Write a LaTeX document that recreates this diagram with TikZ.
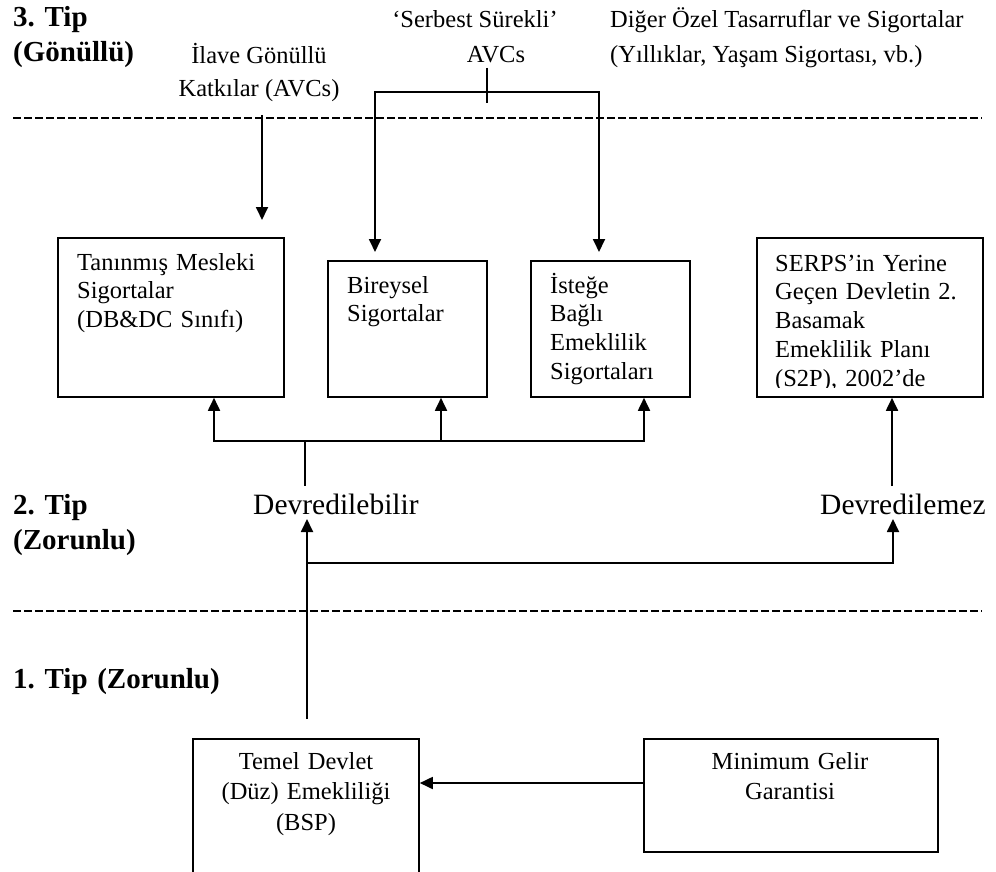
\documentclass[tikz,border=0pt]{standalone}
\usepackage{fontspec}
\setmainfont{Liberation Serif}
\usetikzlibrary{arrows.meta}
\frenchspacing
\begin{document}
\begin{tikzpicture}[x=1pt,y=-1pt,
  box/.style={draw, line width=1.8pt, inner sep=0pt, anchor=north west},
  boxtxt/.style={font=\fontsize{24.5}{28.8}\selectfont\frenchspacing, inner sep=0pt, anchor=base west, align=left, text width=215pt},
  ctrtxt/.style={font=\fontsize{24.5}{30.5}\selectfont\frenchspacing, inner sep=0pt, anchor=base, align=center, text width=280pt},
  hdtxt/.style={font=\fontsize{24.5}{30}\selectfont\frenchspacing, inner sep=0pt},
  tiptxt/.style={font=\fontsize{29}{35}\selectfont\bfseries\frenchspacing, inner sep=0pt, anchor=base west, align=left, text width=260pt},
  bigtxt/.style={font=\fontsize{29.5}{35}\selectfont, inner sep=0pt, anchor=base west},
  conn/.style={line width=1.8pt},
  stem/.style={line width=1.3pt},
  arr/.style={conn, -{Triangle[length=13pt,width=12pt]}},
  arrboth/.style={conn, {Triangle[length=13pt,width=12pt]}-{Triangle[length=13pt,width=12pt]}},
  dashline/.style={line width=1.3pt, dash pattern=on 7.5pt off 3.5pt}]
\useasboundingbox (0,0) rectangle (996,872);

% tier labels
\node[tiptxt] (tip3) at (13,27) {3. Tip\\(Gönüllü)};
\node[tiptxt] (tip2) at (13,514) {2. Tip\\(Zorunlu)};
\node[tiptxt] (tip1) at (13,688) {1. Tip (Zorunlu)};

% header texts
\node[hdtxt, anchor=base] (ilave1) at (259,64) {İlave Gönüllü};
\node[hdtxt, anchor=base] (ilave2) at (259,97) {Katkılar (AVCs)};
\node[hdtxt, anchor=base] (serb1) at (475,28) {‘Serbest Sürekli’};
\node[hdtxt, anchor=base] (serb2) at (496,63) {AVCs};
\node[hdtxt, anchor=base west] (diger1) at (610,28) {Diğer Özel Tasarruflar ve Sigortalar};
\node[hdtxt, anchor=base west] (diger2) at (610,63) {(Yıllıklar, Yaşam Sigortası, vb.)};

% dashed separators
\coordinate (d1a) at (13,118); \coordinate (d1b) at (982,118);
\coordinate (d2a) at (13,611); \coordinate (d2b) at (982,611);
\draw[dashline] (d1a) -- (d1b);
\draw[dashline] (d2a) -- (d2b);

% tier 3 / 2 boxes
\node[box, minimum width=226pt, minimum height=159pt] (tan) at (57,237) {};
\node[box, minimum width=159pt, minimum height=136pt] (bir) at (327,260) {};
\node[box, minimum width=159pt, minimum height=136pt] (ist) at (530,260) {};
\node[box, minimum width=226pt, minimum height=159pt] (serps) at (756,237) {};

\node[boxtxt] (tanT) at (77,270) {Tanınmış Mesleki\\Sigortalar\\(DB\&DC Sınıfı)};
\node[boxtxt] (birT) at (347,293) {Bireysel\\Sigortalar};
\node[boxtxt] (istT) at (550,293) {İsteğe\\Bağlı\\Emeklilik\\Sigortaları};
\begin{scope}
  \clip (758,239) rectangle (980,387);
  \node[boxtxt] (serT) at (775,271) {SERPS’in Yerine\\Geçen Devletin 2.\\Basamak\\Emeklilik Planı\\(S2P), 2002’de};
\end{scope}

% AVC arrows
\coordinate (avcTop) at (262,115); \coordinate (avcEnd) at (262,220);
\draw[arr] (avcTop) -- (avcEnd);
\coordinate (bL) at (375,252); \coordinate (bR) at (599,252); \coordinate (bTop) at (487,92);
\draw[arrboth] (bL) -- (bL |- bTop) -- (bR |- bTop) -- (bR);
\coordinate (tickA) at (487,68); \coordinate (tickB) at (487,103);
\draw[conn] (tickA) -- (tickB);

% transferable branch
\node[bigtxt] (dvb) at (253,514) {Devredilebilir};
\node[bigtxt] (dvm) at (820,514) {Devredilemez};
\coordinate (hL) at (214,441); \coordinate (hM) at (441,441); \coordinate (hR) at (644,441);
\draw[arrboth] (hL |- tan.south) -- (hL) -- (hR) -- (hR |- ist.south);
\draw[arr] (hM) -- (hM |- bir.south);
\coordinate (stT) at (305,441); \coordinate (stB) at (305,486);
\draw[stem] (stT) -- (stB);
\coordinate (srB) at (892,486);
\draw[arr] (srB) -- (srB |- serps.south);

% tier 1
\begin{scope}
  \clip (0,0) rectangle (996,872);
  \node[box, minimum width=226pt, minimum height=160pt] (tem) at (192,738) {};
\end{scope}
\node[box, minimum width=294pt, minimum height=113pt] (min) at (643,738) {};
\node[ctrtxt] (temT) at (306,769) {Temel Devlet\\(Düz) Emekliliği\\(BSP)};
\node[ctrtxt] (minT) at (790,769) {Minimum Gelir\\Garantisi};
\coordinate (mA) at (643,783);
\draw[arr] (mA) -- (mA -| tem.east);

\coordinate (vB) at (307,719); \coordinate (vT) at (307,519);
\draw[arr] (vB) -- (vT);
\coordinate (hJ) at (307,563); \coordinate (rT) at (893,519);
\draw[arr] (hJ) -- (rT |- hJ) -- (rT);
\end{tikzpicture}
\end{document}
